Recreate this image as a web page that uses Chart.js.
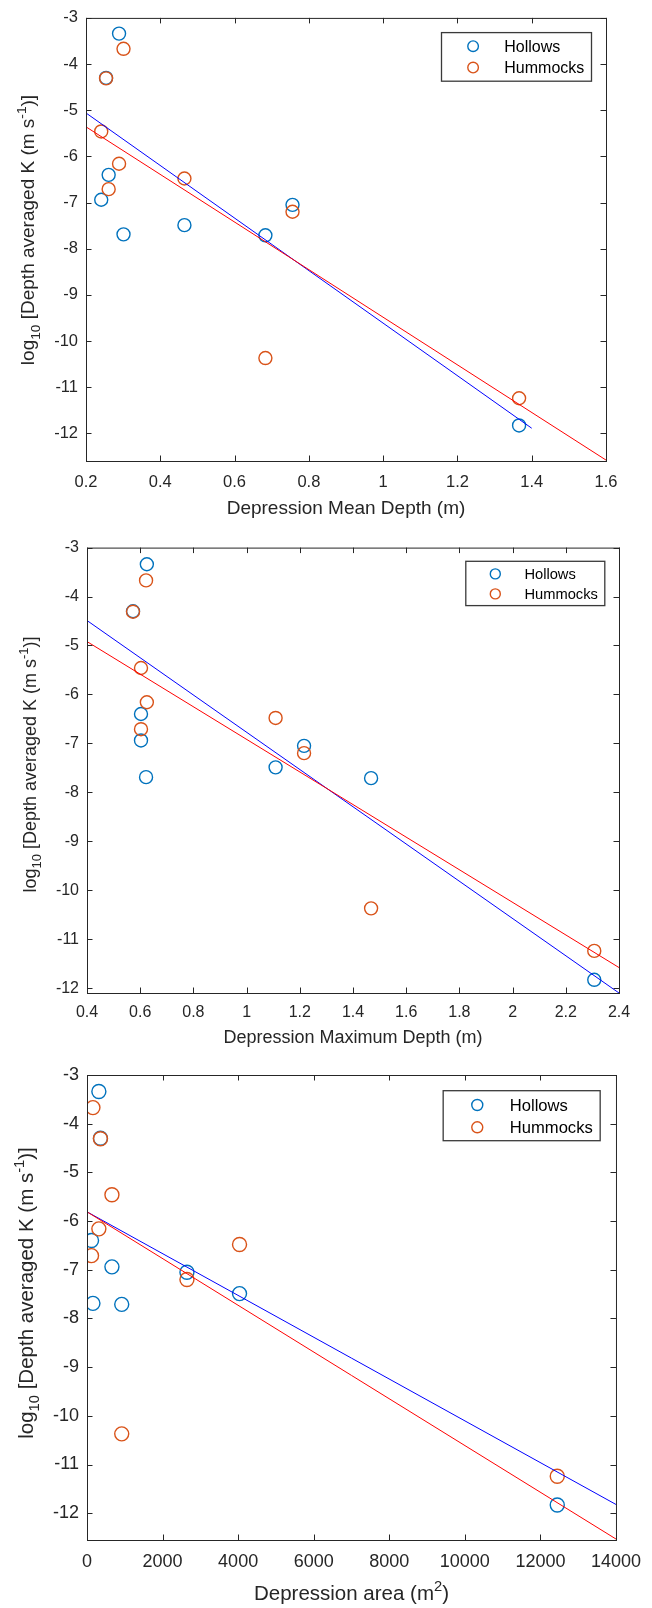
<!DOCTYPE html>
<html>
<head>
<meta charset="utf-8">
<script src="https://cdn.jsdelivr.net/npm/chart.js@4/dist/chart.umd.min.js"></script>
<style>
  body { margin: 0; background: #fff; }
  canvas { display: block; }
</style>
</head>
<body>
<canvas id="meanChart" width="652" height="530"></canvas>
<canvas id="maxChart" width="652" height="520"></canvas>
<canvas id="areaChart" width="652" height="558"></canvas>
<script>
// 0. Data, one entry per depression
const meanDepth = [0.289, 0.254, 0.261, 0.241, 0.301, 0.465, 0.683, 0.756, 1.366];
const maxDepth = [0.625, 0.573, 0.603, 0.603, 0.622, 1.109, 1.468, 1.216, 2.307];
const area = [314, 356, 120, 660, 157, 4037, 919, 2645, 12446];
const hollowK = [-3.34, -4.30, -6.40, -6.94, -7.69, -7.49, -7.71, -7.05, -11.83];
const hummockK = [-6.16, -4.31, -6.71, -5.46, -3.67, -6.48, -10.37, -7.20, -11.24];

// fitted lines, end points
const meanFitHollowX = [0.2, 1.4];
const meanFitHollowY = [-5.06, -11.89];
const meanFitHummockX = [0.2, 1.6];
const meanFitHummockY = [-5.36, -12.58];
const maxFitHollowX = [0.4, 2.4];
const maxFitHollowY = [-4.49, -12.1];
const maxFitHummockX = [0.4, 2.4];
const maxFitHummockY = [-4.92, -11.58];
const areaFitHollowX = [0, 14000];
const areaFitHollowY = [-5.81, -11.82];
const areaFitHummockX = [0, 14000];
const areaFitHummockY = [-5.81, -12.53];

const seriesNames = ["Hollows", "Hummocks"];

const FONT = '"Liberation Sans", Arial, Helvetica, sans-serif';
const TEXT = "#262626";
const HOLLOW = "#0072BD";
const HUMMOCK = "#D95319";

const yTitle = [{t: "log"}, {t: "10", s: "sub"}, {t: " [Depth averaged K (m s"}, {t: "-1", s: "sup"}, {t: ")]"}];

// 1. Draw text with sub/superscripts
function drawRich(ctx, parts, center, base, size, vertical) {
    ctx.save();
    if (vertical) {
        ctx.translate(base, center);
        ctx.rotate(-Math.PI / 2);
    } else {
        ctx.translate(center, base);
    }
    const fontOf = p => `${p.s ? size * 0.72 : size}px ${FONT}`;
    let width = 0;
    parts.forEach(p => { ctx.font = fontOf(p); width += ctx.measureText(p.t).width; });
    let x = -width / 2;
    ctx.fillStyle = TEXT;
    ctx.textAlign = "left";
    ctx.textBaseline = "alphabetic";
    parts.forEach(p => {
        ctx.font = fontOf(p);
        const dy = p.s === "sub" ? size * 0.3 : p.s === "sup" ? -size * 0.42 : 0;
        ctx.fillText(p.t, x, dy);
        x += ctx.measureText(p.t).width;
    });
    ctx.restore();
}

// 2. Box, inward ticks, titles and legend
const decorPlugin = {
    id: "decor",
    afterDatasetsDraw(chart, args, o) {
        const {ctx, chartArea: a, scales: {x, y}} = chart;
        const L = 5.5;
        ctx.save();
        ctx.strokeStyle = TEXT;
        ctx.lineWidth = 1;
        ctx.beginPath();
        x.ticks.forEach(t => {
            const px = Math.round(x.getPixelForValue(t.value)) + 0.5;
            ctx.moveTo(px, a.bottom); ctx.lineTo(px, a.bottom - L);
            ctx.moveTo(px, a.top); ctx.lineTo(px, a.top + L);
        });
        y.ticks.forEach(t => {
            const py = Math.round(y.getPixelForValue(t.value)) + 0.5;
            ctx.moveTo(a.left, py); ctx.lineTo(a.left + L, py);
            ctx.moveTo(a.right, py); ctx.lineTo(a.right - L, py);
        });
        ctx.stroke();
        ctx.strokeRect(a.left + 0.5, a.top + 0.5, a.right - a.left, a.bottom - a.top);

        // legend
        const lg = o.legend;
        const bx = a.right - lg.right - lg.w, by = a.top + lg.top;
        ctx.fillStyle = "#fff";
        ctx.fillRect(bx, by, lg.w, lg.h);
        ctx.strokeStyle = "#3a3a3a";
        ctx.lineWidth = 1.3;
        ctx.strokeRect(bx, by, lg.w, lg.h);
        [HOLLOW, HUMMOCK].forEach((c, i) => {
            const ry = by + (i === 0 ? lg.r1 : lg.r2);
            ctx.beginPath();
            ctx.strokeStyle = c;
            ctx.lineWidth = 1.4;
            ctx.arc(bx + lg.mx, ry, lg.rad, 0, Math.PI * 2);
            ctx.stroke();
            ctx.fillStyle = "#000";
            ctx.font = `${lg.font}px ${FONT}`;
            ctx.textAlign = "left";
            ctx.textBaseline = "middle";
            ctx.fillText(seriesNames[i], bx + lg.tx, ry + 1);
        });
        ctx.restore();

        drawRich(ctx, yTitle, o.yTitle.cy, o.yTitle.base, o.titleSize, true);
        drawRich(ctx, o.xTitle.parts, (a.left + a.right) / 2, o.xTitle.base, o.titleSize, false);
    }
};

const pts = (xs, ys) => xs.map((v, i) => ({x: v, y: ys[i]}));
const fmt = v => String(+v.toFixed(2));

function makeChart(id, c) {
    const datasets = [
        {data: pts(c.fitHummock[0], c.fitHummock[1]), showLine: true, borderColor: "#FF0000", borderWidth: 1, pointRadius: 0},
        {data: pts(c.fitHollow[0], c.fitHollow[1]), showLine: true, borderColor: "#0000FF", borderWidth: 1, pointRadius: 0},
        {data: pts(c.xs, hummockK), showLine: false, borderColor: HUMMOCK, backgroundColor: "rgba(0,0,0,0)", pointRadius: c.rad, pointBorderWidth: 1.4},
        {data: pts(c.xs, hollowK), showLine: false, borderColor: HOLLOW, backgroundColor: "rgba(0,0,0,0)", pointRadius: c.rad, pointBorderWidth: 1.4}
    ];
    const tickFont = {family: FONT, size: c.tickSize};
    const canvas = document.getElementById(id);
    return new Chart(canvas.getContext("2d"), {
        type: "scatter",
        data: {datasets},
        plugins: [decorPlugin],
        options: {
            responsive: false,
            animation: false,
            devicePixelRatio: 1,
            events: [],
            layout: {padding: {left: 0, top: c.area.t, right: 652 - c.area.r, bottom: 0}},
            plugins: {
                legend: {display: false},
                tooltip: {enabled: false},
                decor: {legend: c.legend, yTitle: c.yTitle, xTitle: c.xTitle, titleSize: c.titleSize}
            },
            scales: {
                x: {
                    type: "linear", position: "bottom",
                    min: c.xRange[0], max: c.xRange[1],
                    grid: {display: false, drawTicks: false}, border: {display: false},
                    ticks: {stepSize: c.xRange[2], color: TEXT, font: tickFont, padding: c.xPad, maxRotation: 0, autoSkip: false, includeBounds: false, callback: fmt},
                    afterFit: s => { s.height = canvas.height - c.area.b; }
                },
                y: {
                    type: "linear", position: "left",
                    min: c.yRange[0], max: c.yRange[1],
                    grid: {display: false, drawTicks: false}, border: {display: false},
                    ticks: {stepSize: 1, color: TEXT, font: tickFont, padding: 8, autoSkip: false, includeBounds: false, callback: fmt},
                    afterFit: s => { s.width = c.area.l; }
                }
            }
        }
    });
}

// 3. The three panels
makeChart("meanChart", {
    xs: meanDepth,
    fitHollow: [meanFitHollowX, meanFitHollowY],
    fitHummock: [meanFitHummockX, meanFitHummockY],
    area: {l: 86, t: 14, r: 606, b: 461},
    xRange: [0.2, 1.6, 0.2], yRange: [-12.6, -3],
    tickSize: 16.5, xPad: 12, titleSize: 19, rad: 6.5,
    yTitle: {base: 34, cy: 230},
    xTitle: {base: 514, parts: [{t: "Depression Mean Depth (m)"}]},
    legend: {right: 14.5, top: 14.7, w: 150, h: 48.6, mx: 31.6, tx: 62.8, r1: 13.6, r2: 35, font: 16, rad: 5.3}
});

makeChart("maxChart", {
    xs: maxDepth,
    fitHollow: [maxFitHollowX, maxFitHollowY],
    fitHummock: [maxFitHummockX, maxFitHummockY],
    area: {l: 87, t: 12, r: 619, b: 463},
    xRange: [0.4, 2.4, 0.2], yRange: [-12.1, -3],
    tickSize: 16, xPad: 10, titleSize: 18, rad: 6.5,
    yTitle: {base: 36, cy: 234.5},
    xTitle: {base: 513, parts: [{t: "Depression Maximum Depth (m)"}]},
    legend: {right: 14.2, top: 13.7, w: 139, h: 44.3, mx: 29.5, tx: 58.6, r1: 12.6, r2: 32.6, font: 14.7, rad: 5}
});

makeChart("areaChart", {
    xs: area,
    fitHollow: [areaFitHollowX, areaFitHollowY],
    fitHummock: [areaFitHummockX, areaFitHummockY],
    area: {l: 87, t: 25, r: 626, b: 490},
    xRange: [0, 14000, 2000], yRange: [-12.55, -3],
    tickSize: 18, xPad: 11, titleSize: 20.5, rad: 7,
    yTitle: {base: 33, cy: 243},
    xTitle: {base: 550, parts: [{t: "Depression area (m"}, {t: "2", s: "sup"}, {t: ")"}]},
    legend: {right: 15.8, top: 15.7, w: 157, h: 50, mx: 34.1, tx: 66.6, r1: 14.3, r2: 36.6, font: 16.6, rad: 5.5}
});
</script>
</body>
</html>
